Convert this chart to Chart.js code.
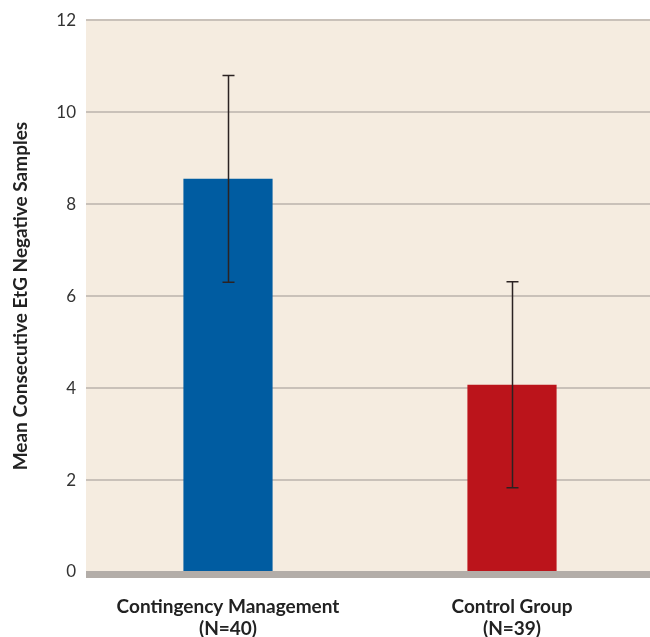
<!DOCTYPE html>
<html>
<head>
<meta charset="utf-8">
<script src="https://cdn.jsdelivr.net/npm/chart.js@4/dist/chart.umd.min.js"></script>
<style>
	html, body { margin: 0; padding: 0; background: #fff; overflow: hidden; }
	#wrap { width: 654px; height: 637px; }
</style>
</head>
<body>
<div id="wrap"><canvas id="chart"></canvas></div>
<script>
const categories = [ [ 'Contingency Management', '(N=40)' ], [ 'Control Group', '(N=39)' ] ];
const means = [ 8.55, 4.07 ];
const errors = [ 2.25, 2.24 ];
const barColors = [ '#005ca1', '#bb141b' ];
const yTicks = [ 0, 2, 4, 6, 8, 10, 12 ];

// beige plot background, grey base line and error whiskers
const decor = {
	id: 'decor',
	beforeDraw( chart ) {
		const { ctx, chartArea: a } = chart;
		ctx.save();
		ctx.fillStyle = '#f5ece0';
		ctx.fillRect( a.left, a.top, a.right - a.left, a.bottom - a.top );
		ctx.restore();
	},
	afterDatasetsDraw( chart ) {
		const { ctx, chartArea: a, scales: { y } } = chart;
		const y0 = y.getPixelForValue( 0 );
		ctx.save();
		ctx.fillStyle = '#b3ada8';
		ctx.fillRect( a.left, y0 - 1, a.right - a.left, 7 );

		ctx.strokeStyle = '#2b2222';
		ctx.lineWidth = 1.5;
		chart.getDatasetMeta( 0 ).data.forEach( ( bar, i ) => {
			const hi = y.getPixelForValue( means[ i ] + errors[ i ] );
			const lo = y.getPixelForValue( means[ i ] - errors[ i ] );
			const x = Math.round( bar.x ) + 0.5;
			ctx.beginPath();
			ctx.moveTo( x, hi );
			ctx.lineTo( x, lo );
			ctx.moveTo( x - 6, hi );
			ctx.lineTo( x + 6, hi );
			ctx.moveTo( x - 6, lo );
			ctx.lineTo( x + 6, lo );
			ctx.stroke();
		} );
		ctx.restore();
	}
};

new Chart( document.getElementById( 'chart' ), {
	type: 'bar',
	plugins: [ decor ],
	data: {
		labels: categories,
		datasets: [
			{
				data: means,
				backgroundColor: barColors,
				barPercentage: 0.314,
				categoryPercentage: 1
			}
		]
	},
	options: {
		responsive: true,
		maintainAspectRatio: false,
		animation: false,
		layout: { padding: { top: 20, right: 0, bottom: 0, left: 0 } },
		plugins: {
			legend: { display: false },
			tooltip: { enabled: false }
		},
		scales: {
			x: {
				grid: { display: false },
				border: { display: false },
				ticks: {
					color: '#222',
					padding: 16,
					font: { family: 'Lato', size: 19, weight: 'bold', lineHeight: 1.15 }
				},
				afterFit: s => { s.height = 65; }
			},
			y: {
				min: 0,
				max: 12,
				afterBuildTicks: s => { s.ticks = yTicks.map( v => ( { value: v } ) ); },
				grid: { color: '#c9c1b9', lineWidth: 2, drawTicks: false },
				border: { display: false },
				ticks: {
					color: '#333',
					padding: 10,
					font: { family: 'Lato', size: 17 }
				},
				title: {
					display: true,
					text: 'Mean Consecutive EtG Negative Samples',
					color: '#222',
					padding: { top: 9, bottom: 0 },
					font: { family: 'Lato', size: 19, weight: 'bold', lineHeight: 1.2 }
				},
				afterFit: s => { s.width = 86; }
			}
		}
	}
} );
</script>
</body>
</html>
